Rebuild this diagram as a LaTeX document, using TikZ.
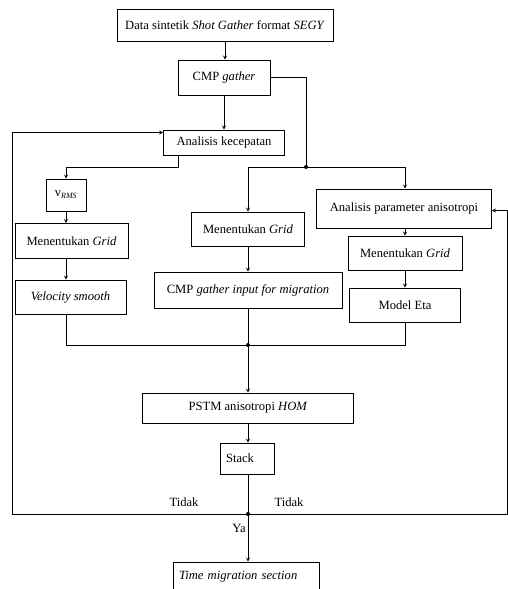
\documentclass[tikz,border=0pt,12pt]{standalone}
\usepackage{fontspec}
\setmainfont{Liberation Serif}
\usepackage{tikz}
\usetikzlibrary{shapes.geometric, arrows}
\tikzstyle{arrow} = [->,>=stealth]
\tikzstyle{box} = [rectangle, draw, inner sep=2pt, align=center]

\begin{document}
\begin{tikzpicture}[x=1pt, y=-1pt, line width=0.8pt, >=stealth, every node/.style={font=\fontsize{12.6}{15}\selectfont}]
    \useasboundingbox (0,0) rectangle (508,589);
    \clip (0,0) rectangle (508,589);
    % Nodes
    \node[box, minimum width=216pt, minimum height=32pt] (data) at (225,25) {Data sintetik \textit{Shot Gather} format \textit{SEGY}};
    \node[box, minimum width=92pt, minimum height=35pt] (cmp) at (224,77.5) {CMP \textit{gather}};
    \node[box, minimum width=121pt, minimum height=25pt] (kec) at (224,142.5) {Analisis kecepatan};
    \node[box, minimum width=40pt, minimum height=32pt] (vrms) at (66,195) {v\textsubscript{\textit{\scriptsize RMS}}};
    \node[box, minimum width=113pt, minimum height=35pt] (gridA) at (71.5,241) {Menentukan \textit{Grid}};
    \node[box, minimum width=111pt, minimum height=34pt] (vel) at (70.5,297) {\textit{Velocity smooth}};
    \node[box, minimum width=113pt, minimum height=34pt] (gridB) at (248,229) {Menentukan \textit{Grid}};
    \node[box, minimum width=188pt, minimum height=36pt] (cmpin) at (248,290) {CMP \textit{gather input for migration}};
    \node[box, minimum width=175pt, minimum height=39pt] (aniso) at (404,208.5) {Analisis parameter anisotropi};
    \node[box, minimum width=114pt, minimum height=34pt] (gridC) at (405,253) {Menentukan \textit{Grid}};
    \node[box, minimum width=111pt, minimum height=34pt] (eta) at (405,305) {Model Eta};
    \node[box, minimum width=211pt, minimum height=30pt] (pstm) at (248,408) {PSTM anisotropi \textit{HOM}};
    \node[box, minimum width=54pt, minimum height=31pt, text width=42pt, align=left] (stack) at (247,458.5) {Stack};
    \node[box, minimum width=146pt, minimum height=30pt, text width=134pt, align=left] (time) at (246,577) {\textit{Time migration section}};
    \node (tidakL) at (184,502) {Tidak};
    \node (tidakR) at (289,502) {Tidak};
    \node (ya) at (239,528) {Ya};

    \coordinate (j1) at (306,167);
    \coordinate (k1) at (178,167);
    \coordinate (j2) at (248,345);
    \coordinate (j3) at (248,514);
    \coordinate (fbL) at (12,514);
    \coordinate (fbR) at (507,514);

    % Edges
    \draw[arrow] (data.south) -- (data.south |- cmp.north);
    \draw[arrow] (cmp.south) -- (kec.north);
    \draw (cmp.east) -| (j1);
    \draw[arrow] (j1) -| (gridB.north);
    \draw[arrow] (j1) -| (aniso.north -| gridC);
    \draw[arrow] (kec.south -| k1) -- (k1) -| (vrms.north);
    \draw[arrow] (vrms.south) -- (vrms.south |- gridA.north);
    \draw[arrow] (gridA.south -| vrms) -- (vel.north -| vrms);
    \draw[arrow] (gridB) -- (cmpin);
    \draw[arrow] (aniso.south -| gridC) -- (gridC.north);
    \draw[arrow] (gridC) -- (eta);
    \draw (vel.south -| vrms) |- (j2);
    \draw (eta.south) |- (j2);
    \draw (cmpin.south) -- (j2);
    \draw[arrow] (j2) -- (pstm.north);
    \draw[arrow] (pstm.south -| j2) -- (stack.north -| j2);
    \draw (stack.south -| j2) -- (j3);
    \draw[arrow] (j3) -- (time.north -| j3);
    \draw[arrow] (j3) -- (fbL) |- ([yshift=10pt]kec.west);
    \draw[arrow] (j3) -- (fbR) |- ([yshift=-2pt]aniso.east);
    \fill (j1) circle (2pt);
    \fill (j2) circle (2pt);
    \fill (j3) circle (2pt);
  \end{tikzpicture}
\end{document}
